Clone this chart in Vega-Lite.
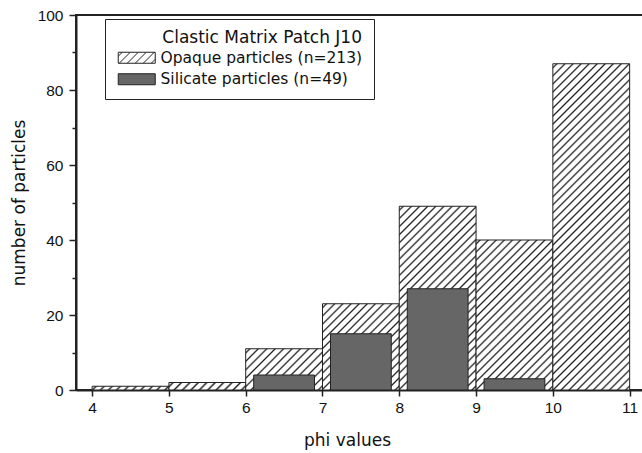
{
  "$schema": "https://vega.github.io/schema/vega-lite/v6.json",
  "width": 569,
  "height": 375,
  "autosize": {"type": "none"},
  "padding": {"left": 76, "top": 15, "right": 0, "bottom": 63},
  "background": "white",
  "config": {
    "font": "Liberation Sans",
    "view": {"stroke": "#222", "strokeWidth": 2},
    "axis": {"domainColor": "#222", "domainWidth": 2, "tickColor": "#222", "tickWidth": 1.5, "labelColor": "#111", "titleColor": "#111", "grid": false, "titleFontWeight": "normal", "labelFontSize": 15.5, "titleFontSize": 17, "labelFont": "Liberation Sans", "titleFont": "DejaVu Sans"}
  },
  "data": {
    "values": [
      {"particles": "Opaque particles (n=213)", "phi_from": 4, "phi_to": 5, "count": 1},
      {"particles": "Opaque particles (n=213)", "phi_from": 5, "phi_to": 6, "count": 2},
      {"particles": "Opaque particles (n=213)", "phi_from": 6, "phi_to": 7, "count": 11},
      {"particles": "Opaque particles (n=213)", "phi_from": 7, "phi_to": 8, "count": 23},
      {"particles": "Opaque particles (n=213)", "phi_from": 8, "phi_to": 9, "count": 49},
      {"particles": "Opaque particles (n=213)", "phi_from": 9, "phi_to": 10, "count": 40},
      {"particles": "Opaque particles (n=213)", "phi_from": 10, "phi_to": 11, "count": 87},
      {"particles": "Silicate particles (n=49)", "phi_from": 6, "phi_to": 7, "count": 4},
      {"particles": "Silicate particles (n=49)", "phi_from": 7, "phi_to": 8, "count": 15},
      {"particles": "Silicate particles (n=49)", "phi_from": 8, "phi_to": 9, "count": 27},
      {"particles": "Silicate particles (n=49)", "phi_from": 9, "phi_to": 10, "count": 3}
    ]
  },
  "encoding": {
    "x": {"field": "phi_from", "type": "quantitative", "scale": {"domain": [3.79, 11.2], "nice": false, "zero": false},
      "axis": {"values": [4, 5, 6, 7, 8, 9, 10, 11], "tickSize": 6, "labelPadding": 4, "title": "phi values", "titlePadding": 17, "titleX": 271, "labelFlush": false}},
    "x2": {"field": "phi_to"},
    "y": {"field": "count", "type": "quantitative", "scale": {"domain": [0, 100], "nice": false},
      "axis": {"values": [0, 10, 20, 30, 40, 50, 60, 70, 80, 90, 100], "labelExpr": "datum.value % 20 === 0 ? datum.label : ''", "labelOverlap": false,
        "tickSize": {"condition": {"test": "datum.value % 20 === 0", "value": 7}, "value": 4}, "labelPadding": 6, "title": "number of particles", "titlePadding": 9}},
    "y2": {"datum": 0}
  },
  "layer": [
    {"transform": [{"filter": "datum.particles === 'Opaque particles (n=213)' && datum.phi_from === 4"}],
     "mark": {"type": "bar", "stroke": "#222", "strokeWidth": 1, "fill": {"gradient": "linear", "x1": 0, "y1": 0, "x2": 1.0463, "y2": 0.0511, "stops": [
      {"offset":0.025,"color":"#fff"},{"offset":0.05,"color":"#222"},{"offset":0.075,"color":"#fff"},
      {"offset":0.125,"color":"#fff"},{"offset":0.15,"color":"#222"},{"offset":0.175,"color":"#fff"},
      {"offset":0.225,"color":"#fff"},{"offset":0.25,"color":"#222"},{"offset":0.275,"color":"#fff"},
      {"offset":0.325,"color":"#fff"},{"offset":0.35,"color":"#222"},{"offset":0.375,"color":"#fff"},
      {"offset":0.425,"color":"#fff"},{"offset":0.45,"color":"#222"},{"offset":0.475,"color":"#fff"},
      {"offset":0.525,"color":"#fff"},{"offset":0.55,"color":"#222"},{"offset":0.575,"color":"#fff"},
      {"offset":0.625,"color":"#fff"},{"offset":0.65,"color":"#222"},{"offset":0.675,"color":"#fff"},
      {"offset":0.725,"color":"#fff"},{"offset":0.75,"color":"#222"},{"offset":0.775,"color":"#fff"},
      {"offset":0.825,"color":"#fff"},{"offset":0.85,"color":"#222"},{"offset":0.875,"color":"#fff"},
      {"offset":0.925,"color":"#fff"},{"offset":0.95,"color":"#222"},{"offset":0.975,"color":"#fff"}]}}},
    {"transform": [{"filter": "datum.particles === 'Opaque particles (n=213)' && datum.phi_from === 5"}],
     "mark": {"type": "bar", "stroke": "#222", "strokeWidth": 1, "fill": {"gradient": "linear", "x1": 0, "y1": 0, "x2": 1.0873, "y2": 0.1062, "stops": [
      {"offset":0.025,"color":"#fff"},{"offset":0.05,"color":"#222"},{"offset":0.075,"color":"#fff"},
      {"offset":0.125,"color":"#fff"},{"offset":0.15,"color":"#222"},{"offset":0.175,"color":"#fff"},
      {"offset":0.225,"color":"#fff"},{"offset":0.25,"color":"#222"},{"offset":0.275,"color":"#fff"},
      {"offset":0.325,"color":"#fff"},{"offset":0.35,"color":"#222"},{"offset":0.375,"color":"#fff"},
      {"offset":0.425,"color":"#fff"},{"offset":0.45,"color":"#222"},{"offset":0.475,"color":"#fff"},
      {"offset":0.525,"color":"#fff"},{"offset":0.55,"color":"#222"},{"offset":0.575,"color":"#fff"},
      {"offset":0.625,"color":"#fff"},{"offset":0.65,"color":"#222"},{"offset":0.675,"color":"#fff"},
      {"offset":0.725,"color":"#fff"},{"offset":0.75,"color":"#222"},{"offset":0.775,"color":"#fff"},
      {"offset":0.825,"color":"#fff"},{"offset":0.85,"color":"#222"},{"offset":0.875,"color":"#fff"},
      {"offset":0.925,"color":"#fff"},{"offset":0.95,"color":"#222"},{"offset":0.975,"color":"#fff"}]}}},
    {"transform": [{"filter": "datum.particles === 'Opaque particles (n=213)' && datum.phi_from === 6"}],
     "mark": {"type": "bar", "stroke": "#222", "strokeWidth": 1, "fill": {"gradient": "linear", "x1": 0, "y1": 0, "x2": 1.193, "y2": 0.6407, "stops": [
      {"offset":0.0204,"color":"#fff"},{"offset":0.0357,"color":"#222"},{"offset":0.0510,"color":"#fff"},
      {"offset":0.0918,"color":"#fff"},{"offset":0.1071,"color":"#222"},{"offset":0.1224,"color":"#fff"},
      {"offset":0.1633,"color":"#fff"},{"offset":0.1786,"color":"#222"},{"offset":0.1939,"color":"#fff"},
      {"offset":0.2347,"color":"#fff"},{"offset":0.25,"color":"#222"},{"offset":0.2653,"color":"#fff"},
      {"offset":0.3061,"color":"#fff"},{"offset":0.3214,"color":"#222"},{"offset":0.3367,"color":"#fff"},
      {"offset":0.3776,"color":"#fff"},{"offset":0.3929,"color":"#222"},{"offset":0.4082,"color":"#fff"},
      {"offset":0.4490,"color":"#fff"},{"offset":0.4643,"color":"#222"},{"offset":0.4796,"color":"#fff"},
      {"offset":0.5204,"color":"#fff"},{"offset":0.5357,"color":"#222"},{"offset":0.5510,"color":"#fff"},
      {"offset":0.5918,"color":"#fff"},{"offset":0.6071,"color":"#222"},{"offset":0.6224,"color":"#fff"},
      {"offset":0.6633,"color":"#fff"},{"offset":0.6786,"color":"#222"},{"offset":0.6939,"color":"#fff"},
      {"offset":0.7347,"color":"#fff"},{"offset":0.75,"color":"#222"},{"offset":0.7653,"color":"#fff"},
      {"offset":0.8061,"color":"#fff"},{"offset":0.8214,"color":"#222"},{"offset":0.8367,"color":"#fff"},
      {"offset":0.8776,"color":"#fff"},{"offset":0.8929,"color":"#222"},{"offset":0.9082,"color":"#fff"},
      {"offset":0.9490,"color":"#fff"},{"offset":0.9643,"color":"#222"},{"offset":0.9796,"color":"#fff"}]}}},
    {"transform": [{"filter": "datum.particles === 'Opaque particles (n=213)' && datum.phi_from === 7"}],
     "mark": {"type": "bar", "stroke": "#222", "strokeWidth": 1, "fill": {"gradient": "linear", "x1": 0, "y1": 0, "x2": 0.9389, "y2": 1.0544, "stops": [
      {"offset":0.014,"color":"#fff"},{"offset":0.025,"color":"#222"},{"offset":0.036,"color":"#fff"},
      {"offset":0.064,"color":"#fff"},{"offset":0.075,"color":"#222"},{"offset":0.086,"color":"#fff"},
      {"offset":0.114,"color":"#fff"},{"offset":0.125,"color":"#222"},{"offset":0.136,"color":"#fff"},
      {"offset":0.164,"color":"#fff"},{"offset":0.175,"color":"#222"},{"offset":0.186,"color":"#fff"},
      {"offset":0.214,"color":"#fff"},{"offset":0.225,"color":"#222"},{"offset":0.236,"color":"#fff"},
      {"offset":0.264,"color":"#fff"},{"offset":0.275,"color":"#222"},{"offset":0.286,"color":"#fff"},
      {"offset":0.314,"color":"#fff"},{"offset":0.325,"color":"#222"},{"offset":0.336,"color":"#fff"},
      {"offset":0.364,"color":"#fff"},{"offset":0.375,"color":"#222"},{"offset":0.386,"color":"#fff"},
      {"offset":0.414,"color":"#fff"},{"offset":0.425,"color":"#222"},{"offset":0.436,"color":"#fff"},
      {"offset":0.464,"color":"#fff"},{"offset":0.475,"color":"#222"},{"offset":0.486,"color":"#fff"},
      {"offset":0.514,"color":"#fff"},{"offset":0.525,"color":"#222"},{"offset":0.536,"color":"#fff"},
      {"offset":0.564,"color":"#fff"},{"offset":0.575,"color":"#222"},{"offset":0.586,"color":"#fff"},
      {"offset":0.614,"color":"#fff"},{"offset":0.625,"color":"#222"},{"offset":0.636,"color":"#fff"},
      {"offset":0.664,"color":"#fff"},{"offset":0.675,"color":"#222"},{"offset":0.686,"color":"#fff"},
      {"offset":0.714,"color":"#fff"},{"offset":0.725,"color":"#222"},{"offset":0.736,"color":"#fff"},
      {"offset":0.764,"color":"#fff"},{"offset":0.775,"color":"#222"},{"offset":0.786,"color":"#fff"},
      {"offset":0.814,"color":"#fff"},{"offset":0.825,"color":"#222"},{"offset":0.836,"color":"#fff"},
      {"offset":0.864,"color":"#fff"},{"offset":0.875,"color":"#222"},{"offset":0.886,"color":"#fff"},
      {"offset":0.914,"color":"#fff"},{"offset":0.925,"color":"#222"},{"offset":0.936,"color":"#fff"},
      {"offset":0.964,"color":"#fff"},{"offset":0.975,"color":"#222"},{"offset":0.986,"color":"#fff"}]}}},
    {"transform": [{"filter": "datum.particles === 'Opaque particles (n=213)' && datum.phi_from === 8"}],
     "mark": {"type": "bar", "stroke": "#222", "strokeWidth": 1, "fill": {"gradient": "linear", "x1": 0, "y1": 0, "x2": 0.5045, "y2": 1.2071, "stops": [
      {"offset":0.0086,"color":"#fff"},{"offset":0.0156,"color":"#222"},{"offset":0.0226,"color":"#fff"},
      {"offset":0.0399,"color":"#fff"},{"offset":0.0469,"color":"#222"},{"offset":0.0539,"color":"#fff"},
      {"offset":0.0711,"color":"#fff"},{"offset":0.0781,"color":"#222"},{"offset":0.0851,"color":"#fff"},
      {"offset":0.1024,"color":"#fff"},{"offset":0.1094,"color":"#222"},{"offset":0.1164,"color":"#fff"},
      {"offset":0.1336,"color":"#fff"},{"offset":0.1406,"color":"#222"},{"offset":0.1476,"color":"#fff"},
      {"offset":0.1649,"color":"#fff"},{"offset":0.1719,"color":"#222"},{"offset":0.1789,"color":"#fff"},
      {"offset":0.1961,"color":"#fff"},{"offset":0.2031,"color":"#222"},{"offset":0.2101,"color":"#fff"},
      {"offset":0.2274,"color":"#fff"},{"offset":0.2344,"color":"#222"},{"offset":0.2414,"color":"#fff"},
      {"offset":0.2586,"color":"#fff"},{"offset":0.2656,"color":"#222"},{"offset":0.2726,"color":"#fff"},
      {"offset":0.2899,"color":"#fff"},{"offset":0.2969,"color":"#222"},{"offset":0.3039,"color":"#fff"},
      {"offset":0.3211,"color":"#fff"},{"offset":0.3281,"color":"#222"},{"offset":0.3351,"color":"#fff"},
      {"offset":0.3524,"color":"#fff"},{"offset":0.3594,"color":"#222"},{"offset":0.3664,"color":"#fff"},
      {"offset":0.3836,"color":"#fff"},{"offset":0.3906,"color":"#222"},{"offset":0.3976,"color":"#fff"},
      {"offset":0.4149,"color":"#fff"},{"offset":0.4219,"color":"#222"},{"offset":0.4289,"color":"#fff"},
      {"offset":0.4461,"color":"#fff"},{"offset":0.4531,"color":"#222"},{"offset":0.4601,"color":"#fff"},
      {"offset":0.4774,"color":"#fff"},{"offset":0.4844,"color":"#222"},{"offset":0.4914,"color":"#fff"},
      {"offset":0.5086,"color":"#fff"},{"offset":0.5156,"color":"#222"},{"offset":0.5226,"color":"#fff"},
      {"offset":0.5399,"color":"#fff"},{"offset":0.5469,"color":"#222"},{"offset":0.5539,"color":"#fff"},
      {"offset":0.5711,"color":"#fff"},{"offset":0.5781,"color":"#222"},{"offset":0.5851,"color":"#fff"},
      {"offset":0.6024,"color":"#fff"},{"offset":0.6094,"color":"#222"},{"offset":0.6164,"color":"#fff"},
      {"offset":0.6336,"color":"#fff"},{"offset":0.6406,"color":"#222"},{"offset":0.6476,"color":"#fff"},
      {"offset":0.6649,"color":"#fff"},{"offset":0.6719,"color":"#222"},{"offset":0.6789,"color":"#fff"},
      {"offset":0.6961,"color":"#fff"},{"offset":0.7031,"color":"#222"},{"offset":0.7101,"color":"#fff"},
      {"offset":0.7274,"color":"#fff"},{"offset":0.7344,"color":"#222"},{"offset":0.7414,"color":"#fff"},
      {"offset":0.7586,"color":"#fff"},{"offset":0.7656,"color":"#222"},{"offset":0.7726,"color":"#fff"},
      {"offset":0.7899,"color":"#fff"},{"offset":0.7969,"color":"#222"},{"offset":0.8039,"color":"#fff"},
      {"offset":0.8211,"color":"#fff"},{"offset":0.8281,"color":"#222"},{"offset":0.8351,"color":"#fff"},
      {"offset":0.8524,"color":"#fff"},{"offset":0.8594,"color":"#222"},{"offset":0.8664,"color":"#fff"},
      {"offset":0.8836,"color":"#fff"},{"offset":0.8906,"color":"#222"},{"offset":0.8976,"color":"#fff"},
      {"offset":0.9149,"color":"#fff"},{"offset":0.9219,"color":"#222"},{"offset":0.9289,"color":"#fff"},
      {"offset":0.9461,"color":"#fff"},{"offset":0.9531,"color":"#222"},{"offset":0.9601,"color":"#fff"},
      {"offset":0.9774,"color":"#fff"},{"offset":0.9844,"color":"#222"},{"offset":0.9914,"color":"#fff"}]}}},
    {"transform": [{"filter": "datum.particles === 'Opaque particles (n=213)' && datum.phi_from === 9"}],
     "mark": {"type": "bar", "stroke": "#222", "strokeWidth": 1, "fill": {"gradient": "linear", "x1": 0, "y1": 0, "x2": 0.6134, "y2": 1.198, "stops": [
      {"offset":0.0099,"color":"#fff"},{"offset":0.0179,"color":"#222"},{"offset":0.0259,"color":"#fff"},
      {"offset":0.0456,"color":"#fff"},{"offset":0.0536,"color":"#222"},{"offset":0.0616,"color":"#fff"},
      {"offset":0.0813,"color":"#fff"},{"offset":0.0893,"color":"#222"},{"offset":0.0973,"color":"#fff"},
      {"offset":0.117,"color":"#fff"},{"offset":0.125,"color":"#222"},{"offset":0.133,"color":"#fff"},
      {"offset":0.1527,"color":"#fff"},{"offset":0.1607,"color":"#222"},{"offset":0.1687,"color":"#fff"},
      {"offset":0.1884,"color":"#fff"},{"offset":0.1964,"color":"#222"},{"offset":0.2044,"color":"#fff"},
      {"offset":0.2241,"color":"#fff"},{"offset":0.2321,"color":"#222"},{"offset":0.2401,"color":"#fff"},
      {"offset":0.2599,"color":"#fff"},{"offset":0.2679,"color":"#222"},{"offset":0.2759,"color":"#fff"},
      {"offset":0.2956,"color":"#fff"},{"offset":0.3036,"color":"#222"},{"offset":0.3116,"color":"#fff"},
      {"offset":0.3313,"color":"#fff"},{"offset":0.3393,"color":"#222"},{"offset":0.3473,"color":"#fff"},
      {"offset":0.367,"color":"#fff"},{"offset":0.375,"color":"#222"},{"offset":0.383,"color":"#fff"},
      {"offset":0.4027,"color":"#fff"},{"offset":0.4107,"color":"#222"},{"offset":0.4187,"color":"#fff"},
      {"offset":0.4384,"color":"#fff"},{"offset":0.4464,"color":"#222"},{"offset":0.4544,"color":"#fff"},
      {"offset":0.4741,"color":"#fff"},{"offset":0.4821,"color":"#222"},{"offset":0.4901,"color":"#fff"},
      {"offset":0.5099,"color":"#fff"},{"offset":0.5179,"color":"#222"},{"offset":0.5259,"color":"#fff"},
      {"offset":0.5456,"color":"#fff"},{"offset":0.5536,"color":"#222"},{"offset":0.5616,"color":"#fff"},
      {"offset":0.5813,"color":"#fff"},{"offset":0.5893,"color":"#222"},{"offset":0.5973,"color":"#fff"},
      {"offset":0.617,"color":"#fff"},{"offset":0.625,"color":"#222"},{"offset":0.633,"color":"#fff"},
      {"offset":0.6527,"color":"#fff"},{"offset":0.6607,"color":"#222"},{"offset":0.6687,"color":"#fff"},
      {"offset":0.6884,"color":"#fff"},{"offset":0.6964,"color":"#222"},{"offset":0.7044,"color":"#fff"},
      {"offset":0.7241,"color":"#fff"},{"offset":0.7321,"color":"#222"},{"offset":0.7401,"color":"#fff"},
      {"offset":0.7599,"color":"#fff"},{"offset":0.7679,"color":"#222"},{"offset":0.7759,"color":"#fff"},
      {"offset":0.7956,"color":"#fff"},{"offset":0.8036,"color":"#222"},{"offset":0.8116,"color":"#fff"},
      {"offset":0.8313,"color":"#fff"},{"offset":0.8393,"color":"#222"},{"offset":0.8473,"color":"#fff"},
      {"offset":0.867,"color":"#fff"},{"offset":0.875,"color":"#222"},{"offset":0.883,"color":"#fff"},
      {"offset":0.9027,"color":"#fff"},{"offset":0.9107,"color":"#222"},{"offset":0.9187,"color":"#fff"},
      {"offset":0.9384,"color":"#fff"},{"offset":0.9464,"color":"#222"},{"offset":0.9544,"color":"#fff"},
      {"offset":0.9741,"color":"#fff"},{"offset":0.9821,"color":"#222"},{"offset":0.9901,"color":"#fff"}]}}},
    {"transform": [{"filter": "datum.particles === 'Opaque particles (n=213)' && datum.phi_from === 10"}],
     "mark": {"type": "bar", "stroke": "#222", "strokeWidth": 1, "fill": {"gradient": "linear", "x1": 0, "y1": 0, "x2": 0.2756, "y2": 1.1705, "stops": [
      {"offset":0.0055,"color":"#fff"},{"offset":0.01,"color":"#222"},{"offset":0.0145,"color":"#fff"},
      {"offset":0.0255,"color":"#fff"},{"offset":0.03,"color":"#222"},{"offset":0.0345,"color":"#fff"},
      {"offset":0.0455,"color":"#fff"},{"offset":0.05,"color":"#222"},{"offset":0.0545,"color":"#fff"},
      {"offset":0.0655,"color":"#fff"},{"offset":0.07,"color":"#222"},{"offset":0.0745,"color":"#fff"},
      {"offset":0.0855,"color":"#fff"},{"offset":0.09,"color":"#222"},{"offset":0.0945,"color":"#fff"},
      {"offset":0.1055,"color":"#fff"},{"offset":0.11,"color":"#222"},{"offset":0.1145,"color":"#fff"},
      {"offset":0.1255,"color":"#fff"},{"offset":0.13,"color":"#222"},{"offset":0.1345,"color":"#fff"},
      {"offset":0.1455,"color":"#fff"},{"offset":0.15,"color":"#222"},{"offset":0.1545,"color":"#fff"},
      {"offset":0.1655,"color":"#fff"},{"offset":0.17,"color":"#222"},{"offset":0.1745,"color":"#fff"},
      {"offset":0.1855,"color":"#fff"},{"offset":0.19,"color":"#222"},{"offset":0.1945,"color":"#fff"},
      {"offset":0.2055,"color":"#fff"},{"offset":0.21,"color":"#222"},{"offset":0.2145,"color":"#fff"},
      {"offset":0.2255,"color":"#fff"},{"offset":0.23,"color":"#222"},{"offset":0.2345,"color":"#fff"},
      {"offset":0.2455,"color":"#fff"},{"offset":0.25,"color":"#222"},{"offset":0.2545,"color":"#fff"},
      {"offset":0.2655,"color":"#fff"},{"offset":0.27,"color":"#222"},{"offset":0.2745,"color":"#fff"},
      {"offset":0.2855,"color":"#fff"},{"offset":0.29,"color":"#222"},{"offset":0.2945,"color":"#fff"},
      {"offset":0.3055,"color":"#fff"},{"offset":0.31,"color":"#222"},{"offset":0.3145,"color":"#fff"},
      {"offset":0.3255,"color":"#fff"},{"offset":0.33,"color":"#222"},{"offset":0.3345,"color":"#fff"},
      {"offset":0.3455,"color":"#fff"},{"offset":0.35,"color":"#222"},{"offset":0.3545,"color":"#fff"},
      {"offset":0.3655,"color":"#fff"},{"offset":0.37,"color":"#222"},{"offset":0.3745,"color":"#fff"},
      {"offset":0.3855,"color":"#fff"},{"offset":0.39,"color":"#222"},{"offset":0.3945,"color":"#fff"},
      {"offset":0.4055,"color":"#fff"},{"offset":0.41,"color":"#222"},{"offset":0.4145,"color":"#fff"},
      {"offset":0.4255,"color":"#fff"},{"offset":0.43,"color":"#222"},{"offset":0.4345,"color":"#fff"},
      {"offset":0.4455,"color":"#fff"},{"offset":0.45,"color":"#222"},{"offset":0.4545,"color":"#fff"},
      {"offset":0.4655,"color":"#fff"},{"offset":0.47,"color":"#222"},{"offset":0.4745,"color":"#fff"},
      {"offset":0.4855,"color":"#fff"},{"offset":0.49,"color":"#222"},{"offset":0.4945,"color":"#fff"},
      {"offset":0.5055,"color":"#fff"},{"offset":0.51,"color":"#222"},{"offset":0.5145,"color":"#fff"},
      {"offset":0.5255,"color":"#fff"},{"offset":0.53,"color":"#222"},{"offset":0.5345,"color":"#fff"},
      {"offset":0.5455,"color":"#fff"},{"offset":0.55,"color":"#222"},{"offset":0.5545,"color":"#fff"},
      {"offset":0.5655,"color":"#fff"},{"offset":0.57,"color":"#222"},{"offset":0.5745,"color":"#fff"},
      {"offset":0.5855,"color":"#fff"},{"offset":0.59,"color":"#222"},{"offset":0.5945,"color":"#fff"},
      {"offset":0.6055,"color":"#fff"},{"offset":0.61,"color":"#222"},{"offset":0.6145,"color":"#fff"},
      {"offset":0.6255,"color":"#fff"},{"offset":0.63,"color":"#222"},{"offset":0.6345,"color":"#fff"},
      {"offset":0.6455,"color":"#fff"},{"offset":0.65,"color":"#222"},{"offset":0.6545,"color":"#fff"},
      {"offset":0.6655,"color":"#fff"},{"offset":0.67,"color":"#222"},{"offset":0.6745,"color":"#fff"},
      {"offset":0.6855,"color":"#fff"},{"offset":0.69,"color":"#222"},{"offset":0.6945,"color":"#fff"},
      {"offset":0.7055,"color":"#fff"},{"offset":0.71,"color":"#222"},{"offset":0.7145,"color":"#fff"},
      {"offset":0.7255,"color":"#fff"},{"offset":0.73,"color":"#222"},{"offset":0.7345,"color":"#fff"},
      {"offset":0.7455,"color":"#fff"},{"offset":0.75,"color":"#222"},{"offset":0.7545,"color":"#fff"},
      {"offset":0.7655,"color":"#fff"},{"offset":0.77,"color":"#222"},{"offset":0.7745,"color":"#fff"},
      {"offset":0.7855,"color":"#fff"},{"offset":0.79,"color":"#222"},{"offset":0.7945,"color":"#fff"},
      {"offset":0.8055,"color":"#fff"},{"offset":0.81,"color":"#222"},{"offset":0.8145,"color":"#fff"},
      {"offset":0.8255,"color":"#fff"},{"offset":0.83,"color":"#222"},{"offset":0.8345,"color":"#fff"},
      {"offset":0.8455,"color":"#fff"},{"offset":0.85,"color":"#222"},{"offset":0.8545,"color":"#fff"},
      {"offset":0.8655,"color":"#fff"},{"offset":0.87,"color":"#222"},{"offset":0.8745,"color":"#fff"},
      {"offset":0.8855,"color":"#fff"},{"offset":0.89,"color":"#222"},{"offset":0.8945,"color":"#fff"},
      {"offset":0.9055,"color":"#fff"},{"offset":0.91,"color":"#222"},{"offset":0.9145,"color":"#fff"},
      {"offset":0.9255,"color":"#fff"},{"offset":0.93,"color":"#222"},{"offset":0.9345,"color":"#fff"},
      {"offset":0.9455,"color":"#fff"},{"offset":0.95,"color":"#222"},{"offset":0.9545,"color":"#fff"},
      {"offset":0.9655,"color":"#fff"},{"offset":0.97,"color":"#222"},{"offset":0.9745,"color":"#fff"},
      {"offset":0.9855,"color":"#fff"},{"offset":0.99,"color":"#222"},{"offset":0.9945,"color":"#fff"}]}}},
    {"transform": [{"filter": "datum.particles === 'Silicate particles (n=49)'"}],
     "mark": {"type": "bar", "stroke": "#222", "strokeWidth": 1, "xOffset": 8, "x2Offset": -8},
     "encoding": {
       "fill": {"field": "particles", "type": "nominal",
         "scale": {"domain": ["Opaque particles (n=213)", "Silicate particles (n=49)"], "range": ["#ffffff", "#666666"]},
         "legend": {
           "title": "Clastic Matrix Patch J10",
           "orient": "none", "legendX": 29, "legendY": 4,
           "titleFont": "DejaVu Sans", "titleFontSize": 17, "titleFontWeight": "normal", "titleColor": "#111", "titleAnchor": "end", "titlePadding": 3, "titleLimit": 500,
           "labelFont": "DejaVu Sans", "labelFontSize": 15.5, "labelColor": "#111", "labelOffset": 16, "labelLimit": 500,
           "symbolType": "M-3.364,-1H3.364V1H-3.364Z", "symbolSize": 121, "symbolOffset": 13, "symbolStrokeColor": "#222", "symbolStrokeWidth": 1,
           "rowPadding": 4.5, "padding": 11, "strokeColor": "#222", "fillColor": "white",
           "encoding": {"symbols": {
             "stroke": {"value": "#222"}, "strokeWidth": {"value": 1},
             "shape": {"condition": {"test": "datum.value === 'Silicate particles (n=49)'", "value": "M-3.364,-1H3.364V1H-3.364Z"}, "value": "M-3.364,-1H3.364V1H-3.364ZM-3.364,-0.273L-2.637,-1M-3.182,1L-1.182,-1M-1.727,1L0.273,-1M-0.273,1L1.727,-1M1.182,1L3.182,-1M2.637,1L3.364,0.273"},
             "fill": {"condition": {"test": "datum.value === 'Silicate particles (n=49)'", "value": "#666666"}, "value": "#ffffff"}}}
         }}
     }}
  ]
}
